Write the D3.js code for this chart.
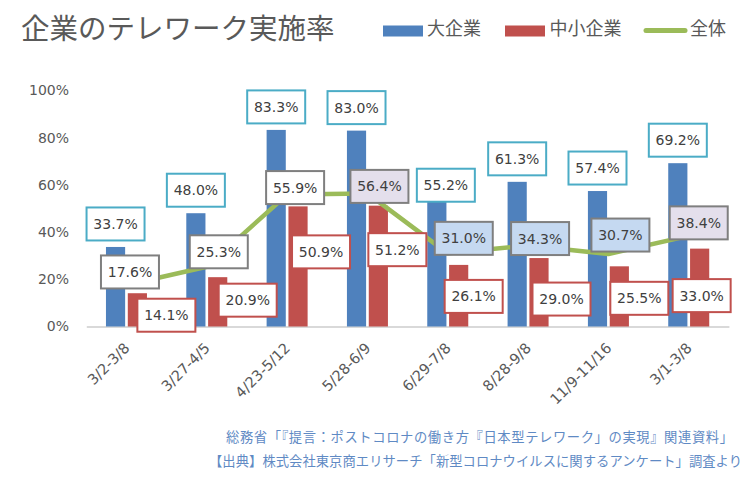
<!DOCTYPE html>
<html><head><meta charset="utf-8">
<script src="https://cdn.jsdelivr.net/npm/d3@7"></script>
<style>
html,body{margin:0;padding:0;background:#fff;}
svg{display:block;}
</style></head>
<body><svg id="chart" width="750" height="480"></svg>
<script>
const title = '企業のテレワーク実施率';
const categories = ['3/2-3/8','3/27-4/5','4/23-5/12','5/28-6/9','6/29-7/8','8/28-9/8','11/9-11/16','3/1-3/8'];
const seriesNames = ['大企業','中小企業','全体'];
const largeValues = [33.7,48.0,83.3,83.0,55.2,61.3,57.4,69.2];
const smeValues = [14.1,20.9,50.9,51.2,26.1,29.0,25.5,33.0];
const overallValues = [17.6,25.3,55.9,56.4,31.0,34.3,30.7,38.4];
const yTicks = [0,20,40,60,80,100];
const footnotes = ['総務省「『提言：ポストコロナの働き方『日本型テレワーク」の実現』関連資料」',
                   '【出典】株式会社東京商エリサーチ「新型コロナウイルスに関するアンケート」調査より'];

// label nudges (layout only)
const largeNudgeX = [0,0,0,0,9,0,0,0], largeNudgeY = [-23,-23,-23,-23,-11,-23,-23,-23];
const smeNudgeX = [29,30,23,19,15,22.5,20,2], smeNudgeY = [22,23,45.5,44,31.5,41,32,47];
const overallNudgeX = [3.5,12,8,12,16,12,12,10], overallNudgeY = [-13,-15,-7,-7,-15,-7,-19,-13];
const overallFill = ['#ffffff','#ffffff','#ffffff','#E4DFEC','#C5D9F1','#C5D9F1','#C5D9F1','#E4DFEC'];

const C_BLUE='#4F81BD', C_RED='#C0504D', C_GREEN='#9BBB59', C_TEAL='#4BACC6', C_GRAY='#7F7F7F';
const TXT='#595959';
const NUM_FONT='"DejaVu Sans", Verdana, sans-serif';
const JP_FONT='"Noto Sans CJK JP", "Noto Sans", sans-serif';

const svg = d3.select('#chart');
const x = d3.scaleBand().domain(categories).range([86.3, 728.9]).padding(0);
const sub = d3.scaleBand().domain(['large','sme'])
  .range([x.bandwidth()/2 - 20.5, x.bandwidth()/2 + 20.5]).paddingInner(5/41).paddingOuter(0);
const y = d3.scaleLinear().domain([0,100]).range([326.5, 90.5]);
const fmt = v => v.toFixed(1) + '%';

// title
svg.append('text').attr('x',21).attr('y',29).attr('dy','0.35em')
  .attr('font-family',JP_FONT).attr('font-size',28.5).attr('fill',TXT).text(title);

// legend
const lg = svg.append('g').attr('font-family',JP_FONT).attr('font-size',18).attr('fill',TXT);
lg.append('rect').attr('x',383).attr('y',25.5).attr('width',40).attr('height',11).attr('fill',C_BLUE);
lg.append('text').attr('x',427).attr('y',28.5).attr('dy','0.35em').text(seriesNames[0]);
lg.append('rect').attr('x',505).attr('y',25.5).attr('width',40).attr('height',11).attr('fill',C_RED);
lg.append('text').attr('x',549.5).attr('y',28.5).attr('dy','0.35em').text(seriesNames[1]);
lg.append('line').attr('x1',646).attr('x2',685).attr('y1',30.5).attr('y2',30.5)
  .attr('stroke',C_GREEN).attr('stroke-width',5).attr('stroke-linecap','round');
lg.append('text').attr('x',690).attr('y',28.5).attr('dy','0.35em').text(seriesNames[2]);

// y axis labels
const yAxis = d3.axisLeft(y).tickValues(yTicks).tickFormat(d => d + '%').tickSize(0).tickPadding(0);
const ya = svg.append('g').attr('transform','translate(69,0)').call(yAxis);
ya.select('.domain').remove();
ya.selectAll('text').attr('font-family',NUM_FONT).attr('font-size',14).attr('fill',TXT);

// x axis line
const xAxis = d3.axisBottom(x).tickSize(0).tickFormat('');
const xa = svg.append('g').attr('transform','translate(0,' + y(0) + ')').call(xAxis);
xa.select('.domain').attr('stroke','#D9D9D9').attr('stroke-width',2);

// bars
const bars = svg.append('g');
bars.selectAll('rect.large').data(largeValues).join('rect').attr('class','large')
  .attr('x',(d,i)=>x(categories[i]) + sub('large')).attr('width',sub.bandwidth())
  .attr('y',d=>y(d)).attr('height',d=>y(0)-y(d)).attr('fill',C_BLUE);
bars.selectAll('rect.sme').data(smeValues).join('rect').attr('class','sme')
  .attr('x',(d,i)=>x(categories[i]) + sub('sme')).attr('width',sub.bandwidth())
  .attr('y',d=>y(d)).attr('height',d=>y(0)-y(d)).attr('fill',C_RED);

// line
const cx = i => x(categories[i]) + x.bandwidth()/2;
const line = d3.line().x((d,i)=>cx(i)).y(d=>y(d));
svg.append('path').datum(overallValues).attr('d',line).attr('fill','none')
  .attr('stroke',C_GREEN).attr('stroke-width',4.5).attr('stroke-linejoin','round');

// labels
const BW=58, BH=33;
function labels(values, ax, ay, nx, ny, stroke, fill, cls){
  const g = svg.append('g').attr('class',cls);
  const grp = g.selectAll('g').data(values).join('g')
    .attr('transform',(d,i)=>'translate(' + (ax(i)+nx[i]) + ',' + (ay(d)+ny[i]) + ')');
  grp.append('rect').attr('x',-BW/2).attr('y',-BH/2).attr('width',BW).attr('height',BH)
    .attr('fill',(d,i)=>typeof fill==='function'?fill(i):fill).attr('stroke',stroke).attr('stroke-width',2);
  grp.append('text').attr('text-anchor','middle').attr('dy','0.36em')
    .attr('font-family',NUM_FONT).attr('font-size',14).attr('fill','#404040').text(fmt);
}
labels(largeValues, i=>x(categories[i])+sub('large')+sub.bandwidth()/2, y, largeNudgeX, largeNudgeY, C_TEAL, '#ffffff','lbl-large');
labels(overallValues, cx, y, overallNudgeX, overallNudgeY, C_GRAY, i=>overallFill[i],'lbl-overall');
labels(smeValues, i=>x(categories[i])+sub('sme')+sub.bandwidth()/2, y, smeNudgeX, smeNudgeY, C_RED, '#ffffff','lbl-sme');

// x category labels
svg.append('g').selectAll('text').data(categories).join('text')
  .attr('transform',(d,i)=>'translate(' + (cx(i)+4) + ',349) rotate(-45)')
  .attr('text-anchor','end').attr('font-family',NUM_FONT).attr('font-size',14.5).attr('fill',TXT).text(d=>d);

// footnotes
const fx = [226, 209], fw = [507, 533];
svg.append('g').attr('font-family',JP_FONT).attr('font-size',13.3).attr('fill','#5F8AC4')
  .selectAll('text').data(footnotes).join('text')
  .attr('x',(d,i)=>fx[i]).attr('y',(d,i)=>437 + i*24).attr('dy','0.35em')
  .attr('textLength',(d,i)=>fw[i]).attr('lengthAdjust','spacing').text(d=>d);
</script></body></html>
